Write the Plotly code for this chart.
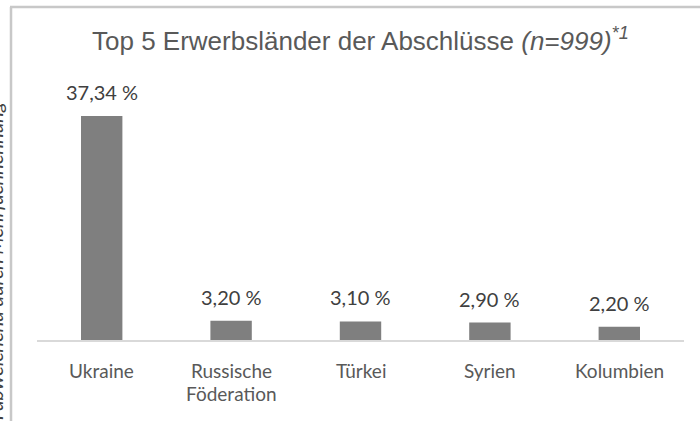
import plotly.graph_objects as go

categories = ["Ukraine", "Russische Föderation", "Türkei", "Syrien", "Kolumbien"]
tick_lines = [["Ukraine"], ["Russische", "Föderation"], ["Türkei"], ["Syrien"], ["Kolumbien"]]
values = [37.34, 3.20, 3.10, 2.90, 2.20]
value_labels = ["37,34 %", "3,20 %", "3,10 %", "2,90 %", "2,20 %"]

L, R, T, B = 37, 16, 60, 81
W, H = 700, 421
pw, ph = W - L - R, H - T - B

def px_x(x):
    return (x - L) / pw

def px_y(y):
    return (H - B - y) / ph

fig = go.Figure()
fig.add_trace(go.Bar(x=categories, y=values, marker=dict(color="#7f7f7f", line=dict(width=0)),
                     width=0.32, hoverinfo="skip"))

lab_font = dict(family="Lato, Open Sans, sans-serif", size=20, color="#404040")
for c, v, t in zip(categories, values, value_labels):
    fig.add_annotation(x=c, y=v, text=t, showarrow=False, yanchor="bottom", yshift=10, font=lab_font)

tick_font = dict(family="Lato, Open Sans, sans-serif", size=19, color="#595959")
for c, lines in zip(categories, tick_lines):
    for i, ln in enumerate(lines):
        fig.add_annotation(x=c, y=0, text=ln, showarrow=False, yanchor="middle", borderpad=0,
                           yshift=-(30 + 23 * i), font=tick_font)

fig.add_annotation(xref="paper", yref="paper", x=0.5, y=px_y(39), xanchor="center", yanchor="middle",
                   text="Top 5 Erwerbsländer der Abschlüsse <i>(n=999)<sup>*1</sup></i>", showarrow=False,
                   font=dict(family="Liberation Sans, Arial, sans-serif", size=26, color="#595959"))

fig.add_annotation(xref="paper", yref="paper", x=px_x(9), y=px_y(100), xanchor="right", yanchor="top",
                   text="<i>n abweichend durch Mehrfachnennung</i>", textangle=-90, showarrow=False,
                   font=dict(family="Lato, sans-serif", size=20, color="#404040"))

fig.add_shape(type="line", xref="paper", yref="paper", x0=px_x(10), x1=px_x(700), y0=px_y(7), y1=px_y(7),
              line=dict(color="#c8c8c8", width=2.5))
fig.add_shape(type="line", xref="paper", yref="paper", x0=px_x(11), x1=px_x(11), y0=px_y(7), y1=px_y(421),
              line=dict(color="#c8c8c8", width=2.5))

fig.update_layout(
    width=W, height=H, margin=dict(l=L, r=R, t=T, b=B),
    paper_bgcolor="white", plot_bgcolor="white", showlegend=False, bargap=0.68,
    xaxis=dict(showline=True, linecolor="#d9d9d9", linewidth=1.5, ticks="", showgrid=False,
               showticklabels=False),
    yaxis=dict(range=[0, ph / 6.0], visible=False, showgrid=False, fixedrange=True),
)

fig.write_html("out.html", config={"displayModeBar": False},
               post_script="document.body.style.margin='0';document.body.style.overflow='hidden';")
